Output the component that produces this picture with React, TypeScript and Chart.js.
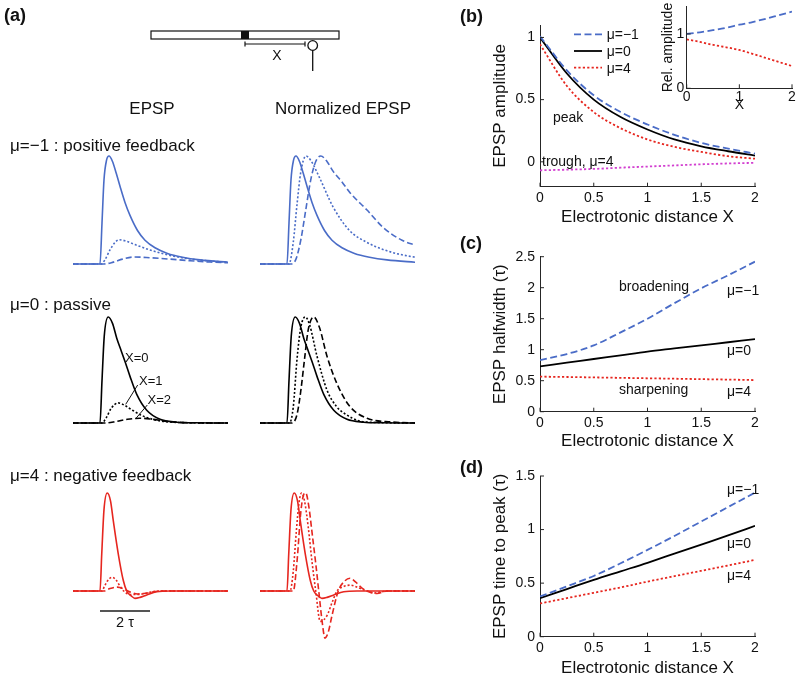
import React, { useEffect, useRef } from "react";
import { Chart, registerables } from "chart.js";
Chart.register(...registerables);

const FONT = "'Liberation Sans', Arial, Helvetica, sans-serif";
Chart.defaults.font.family = FONT;
Chart.defaults.color = "#111";

// ---------- Panel (a): EPSP traces (time in units of tau, amplitude normalised) ----------
// mu = -1 (positive feedback)
const posX0_t = [-1.1, 0, 0.08, 0.16, 0.26, 0.36, 0.5, 0.65, 0.8, 1.0, 1.2, 1.5, 1.8, 2.2, 2.7, 3.3, 4.0, 5.2];
const posX0_v = [0, 0, 0.38, 0.78, 0.96, 1.0, 0.95, 0.84, 0.72, 0.57, 0.45, 0.31, 0.22, 0.15, 0.098, 0.063, 0.038, 0.015];
const posX1_t = [-1.1, 0.05, 0.2, 0.4, 0.6, 0.76, 1.0, 1.4, 2.0, 2.7, 3.5, 4.3, 5.2];
const posX1_v = [0, 0, 0.04, 0.13, 0.2, 0.225, 0.215, 0.18, 0.13, 0.085, 0.05, 0.03, 0.015];
const posX2_t = [-1.1, 0.15, 0.5, 0.9, 1.35, 2.0, 2.8, 3.6, 4.4, 5.2];
const posX2_v = [0, 0, 0.015, 0.045, 0.065, 0.058, 0.045, 0.03, 0.018, 0.011];
const posN1_t = [-1.1, 0.08, 0.25, 0.4, 0.55, 0.76, 0.95, 1.3, 1.84, 2.5, 3.2, 3.9, 4.5, 5.2];
const posN1_v = [0, 0, 0.2, 0.55, 0.85, 1.0, 0.96, 0.8, 0.53, 0.31, 0.2, 0.13, 0.09, 0.06];
const posN2_t = [-1.1, 0.15, 0.35, 0.55, 0.75, 0.95, 1.15, 1.35, 1.6, 1.84, 2.2, 2.52, 3.2, 3.84, 4.6, 5.2];
const posN2_v = [0, 0, 0.04, 0.22, 0.5, 0.78, 0.95, 1.0, 0.95, 0.86, 0.76, 0.66, 0.5, 0.34, 0.22, 0.17];

// mu = 0 (passive)
const pasX0_t = [-1.1, 0, 0.08, 0.17, 0.33, 0.5, 0.67, 0.85, 1.0, 1.2, 1.47, 1.87, 2.4, 3.07, 3.8, 5.2];
const pasX0_v = [0, 0, 0.4, 0.82, 1.0, 0.94, 0.8, 0.68, 0.58, 0.44, 0.27, 0.12, 0.035, 0.008, 0.002, 0];
const pasX1_t = [-1.1, 0.07, 0.25, 0.45, 0.73, 1.0, 1.3, 1.73, 2.4, 3.2, 5.2];
const pasX1_v = [0, 0, 0.05, 0.14, 0.19, 0.165, 0.12, 0.065, 0.02, 0.005, 0];
const pasX2_t = [-1.1, 0.15, 0.6, 1.1, 1.6, 2.1, 2.7, 3.4, 5.2];
const pasX2_v = [0, 0, 0.012, 0.035, 0.045, 0.035, 0.015, 0.004, 0];
const pasN1_t = [-1.1, 0.1, 0.25, 0.4, 0.55, 0.73, 0.9, 1.2, 1.6, 2.0, 2.3, 2.9, 3.6, 5.2];
const pasN1_v = [0, 0, 0.15, 0.6, 0.9, 1.0, 0.93, 0.63, 0.31, 0.15, 0.09, 0.02, 0.005, 0];
const pasN2_t = [-1.1, 0.2, 0.4, 0.55, 0.7, 0.85, 1.07, 1.3, 1.6, 2.0, 2.5, 3.2, 4.2, 5.2];
const pasN2_v = [0, 0, 0.08, 0.3, 0.6, 0.88, 1.0, 0.9, 0.63, 0.37, 0.16, 0.045, 0.01, 0];

// mu = 4 (negative feedback)
const negX0_t = [-1.1, 0, 0.07, 0.16, 0.29, 0.42, 0.53, 0.73, 0.93, 1.07, 1.25, 1.4, 1.6, 1.87, 2.27, 2.8, 5.2];
const negX0_v = [0, 0, 0.38, 0.83, 1.0, 0.92, 0.72, 0.38, 0.11, 0.0, -0.05, -0.075, -0.065, -0.04, -0.008, 0, 0];
const negX1_t = [-1.1, 0.07, 0.2, 0.35, 0.5, 0.65, 0.8, 0.95, 1.2, 1.5, 1.8, 2.3, 5.2];
const negX1_v = [0, 0, 0.06, 0.12, 0.14, 0.11, 0.05, 0, -0.035, -0.035, -0.025, 0, 0];
const negX2_t = [-1.1, 0.15, 0.4, 0.7, 1.0, 1.25, 1.5, 1.9, 2.4, 5.2];
const negX2_v = [0, 0, 0.025, 0.04, 0.015, -0.015, -0.03, -0.02, 0, 0];
const negN1_t = [-1.1, 0.12, 0.25, 0.37, 0.48, 0.58, 0.7, 0.85, 1.0, 1.15, 1.33, 1.6, 1.8, 2.0, 2.25, 2.55, 2.85, 3.2, 3.5, 4.0, 5.2];
const negN1_v = [0, 0, 0.2, 0.6, 0.9, 1.0, 0.92, 0.65, 0.3, 0.0, -0.31, -0.25, -0.12, 0, 0.045, 0.06, 0.035, 0, -0.02, 0, 0];
const negN2_t = [-1.1, 0.25, 0.4, 0.55, 0.65, 0.75, 0.88, 1.0, 1.15, 1.27, 1.4, 1.52, 1.65, 1.8, 2.05, 2.3, 2.52, 2.75, 3.0, 3.2, 3.6, 4.0, 5.2];
const negN2_v = [0, 0, 0.3, 0.8, 0.97, 1.0, 0.85, 0.6, 0.28, 0, -0.3, -0.48, -0.42, -0.25, 0, 0.1, 0.13, 0.09, 0.03, 0, -0.025, 0, 0];

const SCALE_BAR_TAU = 2;

// ---------- Panels (b)-(d): vs electrotonic distance X ----------
const DIST = [0, 0.25, 0.5, 0.75, 1, 1.25, 1.5, 1.75, 2];
const ampPos = [1.01, 0.735, 0.535, 0.4, 0.3, 0.217, 0.152, 0.106, 0.066];
const ampPas = [1.0, 0.71, 0.5, 0.36, 0.26, 0.18, 0.125, 0.085, 0.05];
const ampNeg = [0.945, 0.61, 0.4, 0.27, 0.18, 0.12, 0.08, 0.045, 0.025];
const troughNeg = [-0.068, -0.063, -0.057, -0.047, -0.038, -0.029, -0.02, -0.013, -0.008];
const relPos = [1.0, 1.03, 1.07, 1.115, 1.17, 1.22, 1.28, 1.345, 1.41];
const relNeg = [0.9, 0.855, 0.8, 0.755, 0.705, 0.635, 0.56, 0.485, 0.41];
const hwPos = [0.83, 0.93, 1.07, 1.28, 1.5, 1.75, 1.99, 2.2, 2.42];
const hwPas = [0.73, 0.79, 0.85, 0.91, 0.97, 1.02, 1.07, 1.12, 1.17];
const hwNeg = [0.565, 0.56, 0.553, 0.546, 0.539, 0.532, 0.525, 0.518, 0.51];
const tpPos = [0.375, 0.47, 0.567, 0.685, 0.81, 0.94, 1.075, 1.21, 1.345];
const tpPas = [0.36, 0.445, 0.53, 0.61, 0.69, 0.775, 0.86, 0.945, 1.035];
const tpNeg = [0.31, 0.36, 0.41, 0.46, 0.514, 0.565, 0.615, 0.665, 0.717];

const DIST_TICKS = [0, 0.5, 1, 1.5, 2];
const B_Y_TICKS = [0, 0.5, 1];
const C_Y_TICKS = [0, 0.5, 1, 1.5, 2, 2.5];
const D_Y_TICKS = [0, 0.5, 1, 1.5];
const INSET_X_TICKS = [0, 1, 2];
const INSET_Y_TICKS = [0, 1];

const LEG_LABELS = ["μ=−1", "μ=0", "μ=4"];

// ---------- styles ----------
const BLUE = "#4a6cc7";
const RED = "#e6261f";
const BLACK = "#000000";
const MAGENTA = "#d23fd0";
const AXIS = "#262626";
const DASH = [7, 3.5];
const DOT = [2.2, 2.2];
const TDASH = [6, 3];
const TDOT = [2, 2];

const pts = (t: number[], v: number[]) => t.map((x, i) => ({ x, y: v[i] }));

const inTicks = {
  id: "inTicks",
  afterDraw(chart: any) {
    const ctx = chart.ctx;
    const a = chart.chartArea;
    const xs = chart.scales.x;
    const ys = chart.scales.y;
    const L = 4;
    ctx.save();
    ctx.strokeStyle = AXIS;
    ctx.lineWidth = 1;
    ctx.setLineDash([]);
    xs.ticks.forEach((t: any) => {
      const p = xs.getPixelForValue(t.value);
      ctx.beginPath();
      ctx.moveTo(p, a.bottom);
      ctx.lineTo(p, a.bottom - L);
      ctx.stroke();
    });
    ys.ticks.forEach((t: any) => {
      const p = ys.getPixelForValue(t.value);
      ctx.beginPath();
      ctx.moveTo(a.left, p);
      ctx.lineTo(a.left + L, p);
      ctx.stroke();
    });
    ctx.restore();
  },
};

const legendB = {
  id: "legendB",
  afterDraw(chart: any) {
    const ctx = chart.ctx;
    const a = chart.chartArea;
    chart.data.datasets.slice(0, 3).forEach((ds: any, i: number) => {
      const yy = a.top + 9.3 + i * 16.7;
      ctx.save();
      ctx.strokeStyle = ds.borderColor;
      ctx.lineWidth = ds.borderWidth;
      ctx.setLineDash(ds.borderDash || []);
      ctx.beginPath();
      ctx.moveTo(a.left + 34, yy);
      ctx.lineTo(a.left + 62, yy);
      ctx.stroke();
      ctx.setLineDash([]);
      ctx.fillStyle = "#111";
      ctx.font = `14px ${FONT}`;
      ctx.textBaseline = "middle";
      ctx.fillText(ds.label, a.left + 66.7, yy + 1);
      ctx.restore();
    });
  },
};

const scaleBar = {
  id: "scaleBar",
  afterDraw(chart: any) {
    const ctx = chart.ctx;
    const xs = chart.scales.x;
    const ys = chart.scales.y;
    const x0 = xs.getPixelForValue(0);
    const x1 = xs.getPixelForValue(SCALE_BAR_TAU);
    const yy = ys.getPixelForValue(-0.204);
    ctx.save();
    ctx.strokeStyle = "#555";
    ctx.lineWidth = 2;
    ctx.beginPath();
    ctx.moveTo(x0, yy);
    ctx.lineTo(x1, yy);
    ctx.stroke();
    ctx.fillStyle = "#111";
    ctx.font = `14.5px ${FONT}`;
    ctx.textAlign = "center";
    ctx.textBaseline = "middle";
    ctx.fillText(`${SCALE_BAR_TAU} τ`, (x0 + x1) / 2, yy + 12);
    ctx.restore();
  },
};

function lineDs(data: any[], color: string, dash: number[], label = "", width = 1.6) {
  return {
    label,
    data,
    borderColor: color,
    backgroundColor: color,
    borderWidth: width,
    borderDash: dash,
    pointRadius: 0,
    fill: false,
    cubicInterpolationMode: "monotone",
  };
}

function traceConfig(datasets: any[], yMin: number, yMax: number, extra: any[] = []) {
  return {
    type: "line",
    data: { datasets },
    options: {
      animation: false,
      responsive: true,
      maintainAspectRatio: false,
      events: [],
      layout: { padding: 0 },
      plugins: { legend: { display: false }, tooltip: { enabled: false } },
      scales: {
        x: { type: "linear", display: false, min: -1.08, max: 5.12 },
        y: { type: "linear", display: false, min: yMin, max: yMax },
      },
    },
    plugins: extra,
  };
}

function axisConfig(o: any) {
  return {
    type: "line",
    data: { datasets: o.datasets },
    options: {
      animation: false,
      responsive: true,
      maintainAspectRatio: false,
      events: [],
      layout: { padding: { left: 0, top: o.padTop, right: o.padRight, bottom: 0 } },
      plugins: { legend: { display: false }, tooltip: { enabled: false } },
      scales: {
        x: {
          type: "linear",
          min: o.xMin,
          max: o.xMax,
          afterBuildTicks: (s: any) => {
            s.ticks = o.xTicks.map((value: number) => ({ value }));
          },
          afterFit: (s: any) => {
            s.height = o.xAxisH;
          },
          ticks: {
            font: { size: o.tickSize },
            padding: o.xTickPad,
            maxRotation: 0,
            autoSkip: false,
            color: "#111",
            callback: (v: any) => String(+v),
          },
          grid: { display: false, drawTicks: false },
          border: { display: true, color: AXIS, width: 1 },
          title: {
            display: true,
            text: o.xTitle,
            color: "#111",
            font: { size: o.titleSize },
            padding: { top: 0, bottom: o.xTitlePadB },
          },
        },
        y: {
          type: "linear",
          min: o.yMin,
          max: o.yMax,
          afterBuildTicks: (s: any) => {
            s.ticks = o.yTicks.map((value: number) => ({ value }));
          },
          afterFit: (s: any) => {
            s.width = o.yAxisW;
          },
          ticks: {
            font: { size: o.tickSize },
            padding: o.yTickPad,
            autoSkip: false,
            color: "#111",
            callback: (v: any) => String(+v),
          },
          grid: { display: false, drawTicks: false },
          border: { display: true, color: AXIS, width: 1 },
          title: {
            display: true,
            text: o.yTitle,
            color: "#111",
            font: { size: o.titleSize },
            padding: { top: o.yTitlePad, bottom: 0 },
          },
        },
      },
    },
    plugins: [inTicks, ...(o.plugins || [])],
  };
}

function ChartBox({ left, top, width, height, make }: any) {
  const ref = useRef<HTMLCanvasElement>(null);
  useEffect(() => {
    const c = new Chart(ref.current as HTMLCanvasElement, make() as any);
    return () => c.destroy();
  }, []);
  return (
    <div style={{ position: "absolute", left, top, width, height }}>
      <canvas ref={ref} />
    </div>
  );
}

function Txt({ x, y, size = 14, bold = false, center = false, children }: any) {
  return (
    <div
      style={{
        position: "absolute",
        left: x,
        top: y,
        transform: `translate(${center ? "-50%" : "0"}, -50%)`,
        fontFamily: FONT,
        fontSize: size,
        fontWeight: bold ? "bold" : "normal",
        lineHeight: 1,
        whiteSpace: "nowrap",
        color: "#111",
      }}
    >
      {children}
    </div>
  );
}

const EPSP_LEFT = 73;
const NORM_LEFT = 260;
const TRACE_W = 155;

export default function App() {
  const rows = [
    {
      top: 150, h: 125, yMin: -0.102, yMax: 1.056, color: BLUE,
      epsp: [[posX2_t, posX2_v, TDASH], [posX1_t, posX1_v, TDOT], [posX0_t, posX0_v, []]],
      norm: [[posN2_t, posN2_v, TDASH], [posN1_t, posN1_v, TDOT], [posX0_t, posX0_v, []]],
    },
    {
      top: 310, h: 125, yMin: -0.113, yMax: 1.066, color: BLACK,
      epsp: [[pasX2_t, pasX2_v, TDASH], [pasX1_t, pasX1_v, TDOT], [pasX0_t, pasX0_v, []]],
      norm: [[pasN2_t, pasN2_v, TDASH], [pasN1_t, pasN1_v, TDOT], [pasX0_t, pasX0_v, []]],
    },
    {
      top: 487, h: 160, yMin: -0.571, yMax: 1.061, color: RED,
      epsp: [[negX2_t, negX2_v, TDASH], [negX1_t, negX1_v, TDOT], [negX0_t, negX0_v, []]],
      norm: [[negN2_t, negN2_v, TDASH], [negN1_t, negN1_v, TDOT], [negX0_t, negX0_v, []]],
    },
  ];

  return (
    <div style={{ position: "absolute", left: 0, top: 0, width: 800, height: 679, background: "#fff", overflow: "hidden" }}>
      {rows.map((r, i) => (
        <React.Fragment key={i}>
          <ChartBox
            left={EPSP_LEFT}
            top={r.top}
            width={TRACE_W}
            height={r.h}
            make={() =>
              traceConfig(
                r.epsp.map((s: any) => lineDs(pts(s[0], s[1]), r.color, s[2])),
                r.yMin,
                r.yMax,
                i === 2 ? [scaleBar] : []
              )
            }
          />
          <ChartBox
            left={NORM_LEFT}
            top={r.top}
            width={TRACE_W}
            height={r.h}
            make={() => traceConfig(r.norm.map((s: any) => lineDs(pts(s[0], s[1]), r.color, s[2])), r.yMin, r.yMax)}
          />
        </React.Fragment>
      ))}

      <ChartBox
        left={420}
        top={0}
        width={380}
        height={229}
        make={() =>
          axisConfig({
            datasets: [
              lineDs(pts(DIST, ampPos), BLUE, DASH, LEG_LABELS[0], 1.8),
              lineDs(pts(DIST, ampPas), BLACK, [], LEG_LABELS[1], 1.8),
              lineDs(pts(DIST, ampNeg), RED, DOT, LEG_LABELS[2], 1.8),
              lineDs(pts(DIST, troughNeg), MAGENTA, DOT, "trough", 1.8),
            ],
            xTicks: DIST_TICKS, yTicks: B_Y_TICKS, xMin: 0, xMax: 2, yMin: -0.2, yMax: 1.1,
            xTitle: "Electrotonic distance X", yTitle: "EPSP amplitude", titleSize: 17, tickSize: 14,
            padTop: 25, padRight: 45, yAxisW: 120, xAxisH: 42.3, yTitlePad: 69.8, xTitlePadB: 1.8,
            xTickPad: 3, yTickPad: 5, plugins: [legendB],
          })
        }
      />
      <ChartBox
        left={640}
        top={-12}
        width={160}
        height={126}
        make={() =>
          axisConfig({
            datasets: [lineDs(pts(DIST, relPos), BLUE, DASH, "", 1.8), lineDs(pts(DIST, relNeg), RED, DOT, "", 1.8)],
            xTicks: INSET_X_TICKS, yTicks: INSET_Y_TICKS, xMin: 0, xMax: 2, yMin: 0, yMax: 1.5,
            xTitle: "X", yTitle: "Rel. amplitude", titleSize: 14, tickSize: 14,
            padTop: 18.8, padRight: 8, yAxisW: 46.7, xAxisH: 25.7, yTitlePad: 19.6, xTitlePadB: 0,
            xTickPad: 0, yTickPad: 2.4,
          })
        }
      />
      <ChartBox
        left={420}
        top={240}
        width={380}
        height={215}
        make={() =>
          axisConfig({
            datasets: [
              lineDs(pts(DIST, hwPos), BLUE, DASH, "", 1.8),
              lineDs(pts(DIST, hwPas), BLACK, [], "", 1.8),
              lineDs(pts(DIST, hwNeg), RED, DOT, "", 1.8),
            ],
            xTicks: DIST_TICKS, yTicks: C_Y_TICKS, xMin: 0, xMax: 2, yMin: 0, yMax: 2.5,
            xTitle: "Electrotonic distance X", yTitle: "EPSP halfwidth (τ)", titleSize: 17, tickSize: 14,
            padTop: 16.7, padRight: 45, yAxisW: 120, xAxisH: 43.3, yTitlePad: 69.8, xTitlePadB: 3.1,
            xTickPad: 3, yTickPad: 5,
          })
        }
      />
      <ChartBox
        left={420}
        top={460}
        width={380}
        height={219}
        make={() =>
          axisConfig({
            datasets: [
              lineDs(pts(DIST, tpPos), BLUE, DASH, "", 1.8),
              lineDs(pts(DIST, tpPas), BLACK, [], "", 1.8),
              lineDs(pts(DIST, tpNeg), RED, DOT, "", 1.8),
            ],
            xTicks: DIST_TICKS, yTicks: D_Y_TICKS, xMin: 0, xMax: 2, yMin: 0, yMax: 1.5,
            xTitle: "Electrotonic distance X", yTitle: "EPSP time to peak (τ)", titleSize: 17, tickSize: 14,
            padTop: 16, padRight: 45, yAxisW: 120, xAxisH: 42.3, yTitlePad: 69.8, xTitlePadB: 0.5,
            xTickPad: 3.2, yTickPad: 5,
          })
        }
      />

      <svg width={800} height={679} style={{ position: "absolute", left: 0, top: 0, pointerEvents: "none" }}>
        <rect x={151} y={31} width={188} height={8} fill="#fff" stroke="#111" strokeWidth={1.2} />
        <rect x={241} y={31} width={8} height={8} fill="#111" />
        <line x1={245} y1={44} x2={305} y2={44} stroke="#111" strokeWidth={1.2} />
        <line x1={245} y1={41.5} x2={245} y2={46.5} stroke="#111" strokeWidth={1.2} />
        <line x1={305} y1={41.5} x2={305} y2={46.5} stroke="#111" strokeWidth={1.2} />
        <circle cx={312.7} cy={45.5} r={4.8} fill="#fff" stroke="#111" strokeWidth={1.3} />
        <line x1={312.7} y1={50.3} x2={312.7} y2={71} stroke="#111" strokeWidth={1.3} />
        <line x1={137.7} y1={385} x2={125.7} y2={404.3} stroke="#111" strokeWidth={1} />
        <line x1={147.3} y1={405} x2={136} y2={418.3} stroke="#111" strokeWidth={1} />
      </svg>

      <Txt x={4} y={15} size={18} bold>(a)</Txt>
      <Txt x={277} y={55} size={14} center>X</Txt>
      <Txt x={152} y={108} size={17} center>EPSP</Txt>
      <Txt x={275} y={108} size={17}>Normalized EPSP</Txt>
      <Txt x={10} y={145} size={17}>μ=−1 : positive feedback</Txt>
      <Txt x={10} y={304} size={17}>μ=0 : passive</Txt>
      <Txt x={10} y={475} size={17}>μ=4 : negative feedback</Txt>
      <Txt x={125} y={357} size={13}>X=0</Txt>
      <Txt x={139} y={380} size={13}>X=1</Txt>
      <Txt x={147.5} y={399} size={13}>X=2</Txt>

      <Txt x={460} y={16} size={18} bold>(b)</Txt>
      <Txt x={553} y={117} size={14}>peak</Txt>
      <Txt x={542} y={161} size={14}>trough, μ=4</Txt>

      <Txt x={460} y={243} size={18} bold>(c)</Txt>
      <Txt x={619} y={286} size={14}>broadening</Txt>
      <Txt x={727} y={290} size={14}>μ=−1</Txt>
      <Txt x={727} y={350} size={14}>μ=0</Txt>
      <Txt x={619} y={389} size={14}>sharpening</Txt>
      <Txt x={727} y={391} size={14}>μ=4</Txt>

      <Txt x={460} y={467} size={18} bold>(d)</Txt>
      <Txt x={727} y={489} size={14}>μ=−1</Txt>
      <Txt x={727} y={543} size={14}>μ=0</Txt>
      <Txt x={727} y={575} size={14}>μ=4</Txt>
    </div>
  );
}
